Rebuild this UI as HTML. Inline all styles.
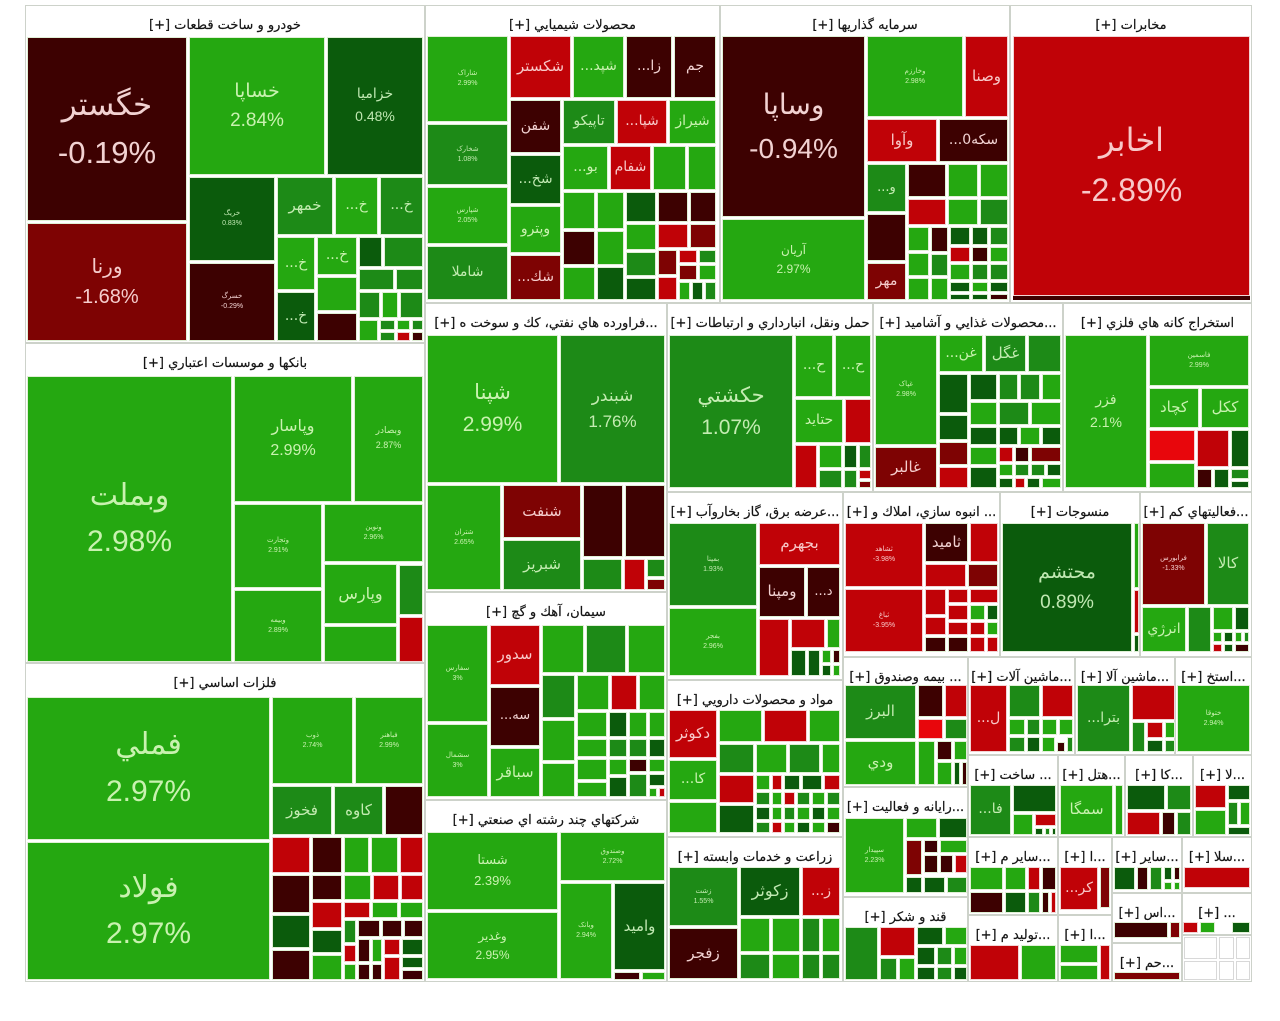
<!DOCTYPE html>
<html><head><meta charset="utf-8">
<style>
*{margin:0;padding:0;box-sizing:border-box}
body{width:1280px;height:1021px;background:#fff;position:relative;overflow:hidden;font-family:"DejaVu Sans","Liberation Sans",sans-serif}
.s{position:absolute;border:1px solid #cdd2ca;background:#fff}
.h{position:absolute;top:7px;left:2px;right:2px;height:26px;line-height:26px;direction:rtl;text-align:center;white-space:nowrap;overflow:hidden;font-size:13px;color:#151515;-webkit-text-stroke:0.2px #151515}
i,b{position:absolute;border:1px solid #e0f0d6;display:flex;flex-direction:column;align-items:center;justify-content:center;font-style:normal;font-weight:normal;overflow:hidden;white-space:nowrap;line-height:1.55;direction:rtl}
.p{font-family:"Liberation Sans",sans-serif;direction:ltr}
.g{background:#25a811;color:#c9f2b0}
.m{background:#1d8a17;color:#c4ecb2}
.d{background:#0b5b0c;color:#c0e8b2}
.k{background:#3d0101;color:#f2d2d2}
.o{background:#7e0303;color:#f5cccc}
.r{background:#c00207;color:#f8c8c8;border-color:#f2d4d4}
.R{background:#e8060c;border-color:#f2d4d4}
.w{background:#fff;border-color:#d8d8d8}
</style></head><body>

<!-- sectors -->
<div class="s" style="left:25px;top:5px;width:400px;height:338px"><div class="h">خودرو و ساخت قطعات [+]</div></div>
<div class="s" style="left:25px;top:343px;width:400px;height:320px"><div class="h">بانکها و موسسات اعتباري [+]</div></div>
<div class="s" style="left:25px;top:663px;width:400px;height:319px"><div class="h">فلزات اساسي [+]</div></div>
<div class="s" style="left:425px;top:5px;width:295px;height:298px"><div class="h">محصولات شيميايي [+]</div></div>
<div class="s" style="left:720px;top:5px;width:290px;height:298px"><div class="h">سرمايه گذاريها [+]</div></div>
<div class="s" style="left:1010px;top:5px;width:242px;height:298px"><div class="h">مخابرات [+]</div></div>
<div class="s" style="left:425px;top:303px;width:242px;height:289px"><div class="h">...فراورده هاي نفتي، كك و سوخت ه [+]</div></div>
<div class="s" style="left:425px;top:592px;width:242px;height:208px"><div class="h">سيمان، آهك و گچ [+]</div></div>
<div class="s" style="left:425px;top:800px;width:242px;height:182px"><div class="h">شرکتهاي چند رشته اي صنعتي [+]</div></div>
<div class="s" style="left:667px;top:303px;width:206px;height:189px"><div class="h">حمل ونقل، انبارداري و ارتباطات [+]</div></div>
<div class="s" style="left:873px;top:303px;width:190px;height:189px"><div class="h">...محصولات غذايي و آشاميد [+]</div></div>
<div class="s" style="left:1063px;top:303px;width:189px;height:189px"><div class="h">استخراج کانه هاي فلزي [+]</div></div>
<div class="s" style="left:667px;top:492px;width:176px;height:188px"><div class="h">...عرضه برق، گاز بخاروآب [+]</div></div>
<div class="s" style="left:667px;top:680px;width:176px;height:157px"><div class="h">مواد و محصولات دارويي [+]</div></div>
<div class="s" style="left:667px;top:837px;width:176px;height:145px"><div class="h">زراعت و خدمات وابسته [+]</div></div>
<div class="s" style="left:843px;top:492px;width:157px;height:165px"><div class="h">... انبوه سازي، املاك و [+]</div></div>
<div class="s" style="left:1000px;top:492px;width:140px;height:165px"><div class="h">منسوجات [+]</div></div>
<div class="s" style="left:1140px;top:492px;width:112px;height:165px"><div class="h">...فعاليتهاي كم [+]</div></div>
<div class="s" style="left:843px;top:657px;width:125px;height:130px"><div class="h">... بيمه وصندوق [+]</div></div>
<div class="s" style="left:843px;top:787px;width:125px;height:110px"><div class="h">...رايانه و فعاليت [+]</div></div>
<div class="s" style="left:843px;top:897px;width:125px;height:85px"><div class="h">قند و شكر [+]</div></div>
<div class="s" style="left:968px;top:657px;width:107px;height:98px"><div class="h">...ماشين آلات [+]</div></div>
<div class="s" style="left:1075px;top:657px;width:100px;height:98px"><div class="h">...ماشين آلا [+]</div></div>
<div class="s" style="left:1175px;top:657px;width:77px;height:98px"><div class="h">...استخ [+]</div></div>
<div class="s" style="left:968px;top:755px;width:90px;height:82px"><div class="h">... ساخت [+]</div></div>
<div class="s" style="left:1058px;top:755px;width:67px;height:82px"><div class="h">...هتل [+]</div></div>
<div class="s" style="left:1125px;top:755px;width:68px;height:82px"><div class="h">...كا [+]</div></div>
<div class="s" style="left:1193px;top:755px;width:59px;height:82px"><div class="h">...لا [+]</div></div>
<div class="s" style="left:968px;top:837px;width:90px;height:78px"><div class="h">...ساير م [+]</div></div>
<div class="s" style="left:1058px;top:837px;width:54px;height:78px"><div class="h">...ا [+]</div></div>
<div class="s" style="left:1112px;top:837px;width:70px;height:56px"><div class="h">...ساير [+]</div></div>
<div class="s" style="left:1182px;top:837px;width:70px;height:56px"><div class="h">...سلا [+]</div></div>
<div class="s" style="left:968px;top:915px;width:90px;height:67px"><div class="h">...توليد م [+]</div></div>
<div class="s" style="left:1058px;top:915px;width:54px;height:67px"><div class="h">...ا [+]</div></div>
<div class="s" style="left:1112px;top:893px;width:70px;height:50px"><div class="h">...اس [+]</div></div>
<div class="s" style="left:1112px;top:943px;width:70px;height:39px"><div class="h">...حم [+]</div></div>
<div class="s" style="left:1182px;top:893px;width:70px;height:42px"><div class="h">... [+]</div></div>
<div class="s" style="left:1182px;top:935px;width:70px;height:47px"></div>

<!-- 1 khodro -->
<b class="k" style="left:27px;top:37px;width:160px;height:184px;font-size:31px"><span>خگستر</span><span class="p">-0.19%</span></b>
<b class="o" style="left:27px;top:223px;width:160px;height:118px;font-size:20px"><span>ورنا</span><span class="p">-1.68%</span></b>
<b class="g" style="left:189px;top:37px;width:136px;height:138px;font-size:19px"><span>خساپا</span><span class="p">2.84%</span></b>
<b class="d" style="left:327px;top:37px;width:96px;height:138px;font-size:14px"><span>خزامیا</span><span class="p">0.48%</span></b>
<b class="d" style="left:189px;top:177px;width:86px;height:84px;font-size:7px"><span>خریگ</span><span class="p">0.83%</span></b>
<b class="m" style="left:277px;top:177px;width:56px;height:58px;font-size:15px">خمهر</b>
<b class="g" style="left:335px;top:177px;width:43px;height:58px;font-size:14px">خ...</b>
<b class="m" style="left:380px;top:177px;width:43px;height:58px;font-size:14px">خ...</b>
<b class="k" style="left:189px;top:263px;width:86px;height:78px;font-size:7px"><span>خسرگ</span><span class="p">-0.29%</span></b>
<b class="g" style="left:277px;top:237px;width:38px;height:53px;font-size:14px">خ...</b>
<b class="g" style="left:317px;top:237px;width:40px;height:38px;font-size:14px">خ...</b>
<i class="g" style="left:317px;top:277px;width:40px;height:34px"></i>
<i class="k" style="left:317px;top:313px;width:40px;height:28px"></i>
<b class="d" style="left:277px;top:292px;width:38px;height:49px;font-size:14px">خ...</b>
<i class="d" style="left:359px;top:237px;width:23px;height:30px"></i>
<i class="m" style="left:384px;top:237px;width:39px;height:30px"></i>
<i class="m" style="left:359px;top:269px;width:35px;height:21px"></i>
<i class="m" style="left:396px;top:269px;width:27px;height:21px"></i>
<i class="m" style="left:359px;top:292px;width:21px;height:26px"></i>
<i class="g" style="left:382px;top:292px;width:16px;height:26px"></i>
<i class="m" style="left:400px;top:292px;width:23px;height:26px"></i>
<i class="g" style="left:359px;top:320px;width:19px;height:21px"></i>
<i class="m" style="left:380px;top:320px;width:15px;height:10px"></i>
<i class="g" style="left:397px;top:320px;width:13px;height:10px"></i>
<i class="m" style="left:412px;top:320px;width:11px;height:10px"></i>
<i class="m" style="left:380px;top:332px;width:15px;height:9px"></i>
<i class="r" style="left:397px;top:332px;width:13px;height:9px"></i>
<i class="k" style="left:412px;top:332px;width:11px;height:9px"></i>

<!-- 2 banks -->
<b class="g" style="left:27px;top:376px;width:205px;height:286px;font-size:30px"><span>وبملت</span><span class="p">2.98%</span></b>
<b class="g" style="left:234px;top:376px;width:118px;height:126px;font-size:16px"><span>وپاسار</span><span class="p">2.99%</span></b>
<b class="g" style="left:354px;top:376px;width:69px;height:126px;font-size:9px"><span>وبصادر</span><span class="p">2.87%</span></b>
<b class="g" style="left:234px;top:504px;width:88px;height:84px;font-size:7px"><span>وتجارت</span><span class="p">2.91%</span></b>
<b class="g" style="left:234px;top:590px;width:88px;height:72px;font-size:7px"><span>وبیمه</span><span class="p">2.89%</span></b>
<b class="g" style="left:324px;top:504px;width:99px;height:58px;font-size:7px"><span>ونوین</span><span class="p">2.96%</span></b>
<b class="g" style="left:324px;top:564px;width:73px;height:60px;font-size:16px">وپارس</b>
<i class="g" style="left:324px;top:626px;width:73px;height:36px"></i>
<i class="m" style="left:399px;top:565px;width:24px;height:50px"></i>
<i class="r" style="left:399px;top:617px;width:24px;height:45px"></i>

<!-- 3 felezat -->
<b class="g" style="left:27px;top:697px;width:243px;height:143px;font-size:30px"><span>فملي</span><span class="p">2.97%</span></b>
<b class="g" style="left:27px;top:842px;width:243px;height:138px;font-size:30px"><span>فولاد</span><span class="p">2.97%</span></b>
<b class="g" style="left:272px;top:697px;width:81px;height:87px;font-size:7px"><span>ذوب</span><span class="p">2.74%</span></b>
<b class="g" style="left:355px;top:697px;width:68px;height:87px;font-size:7px"><span>فباهنر</span><span class="p">2.99%</span></b>
<b class="m" style="left:272px;top:786px;width:60px;height:49px;font-size:15px">فخوز</b>
<b class="m" style="left:334px;top:786px;width:49px;height:49px;font-size:15px">کاوه</b>
<i class="k" style="left:385px;top:786px;width:38px;height:49px"></i>
<i class="r" style="left:272px;top:837px;width:38px;height:36px"></i>
<i class="k" style="left:312px;top:837px;width:30px;height:36px"></i>
<i class="g" style="left:344px;top:837px;width:25px;height:36px"></i>
<i class="g" style="left:371px;top:837px;width:27px;height:36px"></i>
<i class="r" style="left:400px;top:837px;width:23px;height:36px"></i>
<i class="k" style="left:272px;top:875px;width:38px;height:38px"></i>
<i class="k" style="left:312px;top:875px;width:30px;height:25px"></i>
<i class="g" style="left:344px;top:875px;width:27px;height:25px"></i>
<i class="r" style="left:373px;top:875px;width:26px;height:25px"></i>
<i class="r" style="left:401px;top:875px;width:22px;height:25px"></i>
<i class="r" style="left:312px;top:902px;width:30px;height:26px"></i>
<i class="r" style="left:344px;top:902px;width:26px;height:16px"></i>
<i class="g" style="left:372px;top:902px;width:26px;height:16px"></i>
<i class="g" style="left:400px;top:902px;width:23px;height:16px"></i>
<i class="d" style="left:272px;top:915px;width:38px;height:33px"></i>
<i class="d" style="left:312px;top:930px;width:30px;height:23px"></i>
<i class="k" style="left:272px;top:950px;width:38px;height:30px"></i>
<i class="g" style="left:312px;top:955px;width:30px;height:25px"></i>
<i class="m" style="left:344px;top:920px;width:12px;height:23px"></i>
<i class="k" style="left:358px;top:920px;width:22px;height:17px"></i>
<i class="k" style="left:382px;top:920px;width:20px;height:17px"></i>
<i class="k" style="left:404px;top:920px;width:19px;height:17px"></i>
<i class="r" style="left:344px;top:945px;width:12px;height:17px"></i>
<i class="k" style="left:358px;top:939px;width:12px;height:23px"></i>
<i class="g" style="left:372px;top:939px;width:10px;height:23px"></i>
<i class="r" style="left:384px;top:939px;width:16px;height:16px"></i>
<i class="d" style="left:402px;top:939px;width:21px;height:16px"></i>
<i class="g" style="left:344px;top:964px;width:12px;height:16px"></i>
<i class="k" style="left:358px;top:964px;width:12px;height:16px"></i>
<i class="k" style="left:372px;top:964px;width:10px;height:16px"></i>
<i class="r" style="left:384px;top:957px;width:16px;height:23px"></i>
<i class="d" style="left:402px;top:957px;width:21px;height:11px"></i>
<i class="k" style="left:402px;top:970px;width:21px;height:10px"></i>

<!-- 4 shimiaee -->
<b class="g" style="left:427px;top:36px;width:81px;height:86px;font-size:7px"><span>شاراک</span><span class="p">2.99%</span></b>
<b class="m" style="left:427px;top:124px;width:81px;height:61px;font-size:7px"><span>شخارک</span><span class="p">1.08%</span></b>
<b class="g" style="left:427px;top:187px;width:81px;height:57px;font-size:7px"><span>شپارس</span><span class="p">2.05%</span></b>
<b class="m" style="left:427px;top:246px;width:81px;height:54px;font-size:14px">شاملا</b>
<b class="r" style="left:510px;top:36px;width:61px;height:62px;font-size:15px">شکستر</b>
<b class="g" style="left:573px;top:36px;width:51px;height:62px;font-size:14px">شپد...</b>
<b class="k" style="left:626px;top:36px;width:46px;height:62px;font-size:14px">زا...</b>
<b class="k" style="left:674px;top:36px;width:42px;height:62px;font-size:14px">جم</b>
<b class="k" style="left:510px;top:100px;width:51px;height:53px;font-size:14px">شفن</b>
<b class="m" style="left:563px;top:100px;width:52px;height:44px;font-size:14px">تاپیکو</b>
<b class="r" style="left:617px;top:100px;width:50px;height:44px;font-size:14px">شپا...</b>
<b class="g" style="left:669px;top:100px;width:47px;height:44px;font-size:14px">شیراز</b>
<b class="d" style="left:510px;top:155px;width:51px;height:49px;font-size:14px">شخ...</b>
<b class="g" style="left:563px;top:146px;width:45px;height:44px;font-size:14px">بو...</b>
<b class="r" style="left:610px;top:146px;width:41px;height:44px;font-size:14px">شفام</b>
<i class="g" style="left:653px;top:146px;width:33px;height:44px"></i>
<i class="g" style="left:688px;top:146px;width:28px;height:44px"></i>
<b class="g" style="left:510px;top:206px;width:51px;height:47px;font-size:14px">وپترو</b>
<b class="o" style="left:510px;top:255px;width:51px;height:45px;font-size:14px">شك...</b>
<i class="g" style="left:563px;top:192px;width:32px;height:37px"></i>
<i class="g" style="left:597px;top:192px;width:27px;height:37px"></i>
<i class="d" style="left:626px;top:192px;width:30px;height:30px"></i>
<i class="k" style="left:658px;top:192px;width:30px;height:30px"></i>
<i class="k" style="left:690px;top:192px;width:26px;height:30px"></i>
<i class="k" style="left:563px;top:231px;width:32px;height:34px"></i>
<i class="g" style="left:597px;top:231px;width:27px;height:34px"></i>
<i class="g" style="left:626px;top:224px;width:30px;height:26px"></i>
<i class="r" style="left:658px;top:224px;width:30px;height:24px"></i>
<i class="o" style="left:690px;top:224px;width:26px;height:24px"></i>
<i class="g" style="left:563px;top:267px;width:32px;height:33px"></i>
<i class="d" style="left:597px;top:267px;width:27px;height:33px"></i>
<i class="m" style="left:626px;top:252px;width:30px;height:24px"></i>
<i class="d" style="left:626px;top:278px;width:30px;height:22px"></i>
<i class="o" style="left:658px;top:250px;width:19px;height:25px"></i>
<i class="r" style="left:679px;top:250px;width:18px;height:13px"></i>
<i class="m" style="left:699px;top:250px;width:17px;height:13px"></i>
<i class="r" style="left:658px;top:277px;width:19px;height:23px"></i>
<i class="o" style="left:679px;top:265px;width:18px;height:15px"></i>
<i class="g" style="left:699px;top:265px;width:17px;height:15px"></i>
<i class="g" style="left:679px;top:282px;width:11px;height:18px"></i>
<i class="d" style="left:692px;top:282px;width:11px;height:18px"></i>
<i class="m" style="left:705px;top:282px;width:11px;height:18px"></i>

<!-- 5 sarmayeh -->
<b class="k" style="left:722px;top:36px;width:143px;height:181px;font-size:28px"><span>وساپا</span><span class="p">-0.94%</span></b>
<b class="g" style="left:722px;top:219px;width:143px;height:81px;font-size:12px"><span>آریان</span><span class="p">2.97%</span></b>
<b class="g" style="left:867px;top:36px;width:96px;height:81px;font-size:7px"><span>وخارزم</span><span class="p">2.98%</span></b>
<b class="r" style="left:965px;top:36px;width:43px;height:81px;font-size:15px">وصنا</b>
<b class="r" style="left:867px;top:119px;width:70px;height:43px;font-size:15px">وآوا</b>
<b class="k" style="left:939px;top:119px;width:69px;height:43px;font-size:14px">سکه0...</b>
<b class="m" style="left:867px;top:164px;width:39px;height:48px;font-size:13px">و...</b>
<i class="k" style="left:908px;top:164px;width:38px;height:33px"></i>
<i class="g" style="left:948px;top:164px;width:30px;height:33px"></i>
<i class="g" style="left:980px;top:164px;width:28px;height:33px"></i>
<i class="r" style="left:908px;top:199px;width:38px;height:26px"></i>
<i class="g" style="left:948px;top:199px;width:30px;height:26px"></i>
<i class="m" style="left:980px;top:199px;width:28px;height:26px"></i>
<i class="k" style="left:867px;top:214px;width:39px;height:47px"></i>
<b class="o" style="left:867px;top:263px;width:39px;height:37px;font-size:14px">مهر</b>
<i class="g" style="left:908px;top:227px;width:21px;height:24px"></i>
<i class="k" style="left:931px;top:227px;width:17px;height:25px"></i>
<i class="d" style="left:950px;top:227px;width:20px;height:18px"></i>
<i class="d" style="left:972px;top:227px;width:16px;height:18px"></i>
<i class="m" style="left:990px;top:227px;width:18px;height:18px"></i>
<i class="g" style="left:908px;top:253px;width:21px;height:23px"></i>
<i class="m" style="left:931px;top:254px;width:17px;height:22px"></i>
<i class="r" style="left:950px;top:247px;width:20px;height:15px"></i>
<i class="k" style="left:972px;top:247px;width:16px;height:15px"></i>
<i class="g" style="left:990px;top:247px;width:18px;height:15px"></i>
<i class="g" style="left:908px;top:278px;width:21px;height:22px"></i>
<i class="g" style="left:931px;top:278px;width:17px;height:22px"></i>
<i class="g" style="left:950px;top:264px;width:20px;height:16px"></i>
<i class="m" style="left:972px;top:264px;width:16px;height:16px"></i>
<i class="m" style="left:990px;top:264px;width:18px;height:16px"></i>
<i class="d" style="left:950px;top:282px;width:20px;height:10px"></i>
<i class="g" style="left:972px;top:282px;width:16px;height:10px"></i>
<i class="d" style="left:990px;top:282px;width:18px;height:10px"></i>
<i class="d" style="left:950px;top:294px;width:20px;height:6px"></i>
<i class="d" style="left:972px;top:294px;width:16px;height:6px"></i>
<i class="k" style="left:990px;top:294px;width:18px;height:6px"></i>

<!-- 6 mokhaberat -->
<b class="r" style="left:1013px;top:36px;width:237px;height:260px;font-size:32px"><span>اخابر</span><span class="p">-2.89%</span></b>
<i class="k" style="left:1013px;top:296px;width:237px;height:4px;border:none"></i>

<!-- 7 faravardeh -->
<b class="g" style="left:427px;top:335px;width:131px;height:148px;font-size:21px"><span>شپنا</span><span class="p">2.99%</span></b>
<b class="m" style="left:560px;top:335px;width:105px;height:148px;font-size:17px"><span>شبندر</span><span class="p">1.76%</span></b>
<b class="g" style="left:427px;top:485px;width:74px;height:105px;font-size:7px"><span>شتران</span><span class="p">2.65%</span></b>
<b class="o" style="left:503px;top:485px;width:78px;height:53px;font-size:15px">شنفت</b>
<b class="m" style="left:503px;top:540px;width:78px;height:50px;font-size:15px">شبریز</b>
<i class="k" style="left:583px;top:485px;width:40px;height:72px"></i>
<i class="k" style="left:625px;top:485px;width:40px;height:72px"></i>
<i class="m" style="left:583px;top:559px;width:39px;height:31px"></i>
<i class="r" style="left:624px;top:559px;width:21px;height:31px"></i>
<i class="m" style="left:647px;top:559px;width:18px;height:18px"></i>
<i class="o" style="left:647px;top:579px;width:18px;height:11px"></i>

<!-- 8 siman -->
<b class="g" style="left:427px;top:625px;width:61px;height:97px;font-size:7px"><span>سفارس</span><span class="p">3%</span></b>
<b class="g" style="left:427px;top:724px;width:61px;height:73px;font-size:7px"><span>سشمال</span><span class="p">3%</span></b>
<b class="r" style="left:490px;top:625px;width:50px;height:60px;font-size:15px">سدور</b>
<b class="k" style="left:490px;top:687px;width:50px;height:59px;font-size:13px">سه...</b>
<b class="g" style="left:490px;top:748px;width:50px;height:49px;font-size:15px">سباقر</b>
<i class="g" style="left:542px;top:625px;width:42px;height:48px"></i>
<i class="m" style="left:586px;top:625px;width:40px;height:48px"></i>
<i class="g" style="left:628px;top:625px;width:37px;height:48px"></i>
<i class="m" style="left:542px;top:675px;width:33px;height:43px"></i>
<i class="g" style="left:577px;top:675px;width:32px;height:35px"></i>
<i class="r" style="left:611px;top:675px;width:26px;height:35px"></i>
<i class="g" style="left:639px;top:675px;width:26px;height:35px"></i>
<i class="g" style="left:542px;top:720px;width:33px;height:41px"></i>
<i class="g" style="left:542px;top:763px;width:33px;height:34px"></i>
<i class="g" style="left:577px;top:712px;width:30px;height:25px"></i>
<i class="d" style="left:609px;top:712px;width:18px;height:25px"></i>
<i class="g" style="left:629px;top:712px;width:18px;height:25px"></i>
<i class="g" style="left:649px;top:712px;width:16px;height:25px"></i>
<i class="g" style="left:577px;top:739px;width:30px;height:18px"></i>
<i class="m" style="left:609px;top:739px;width:18px;height:18px"></i>
<i class="m" style="left:629px;top:739px;width:18px;height:18px"></i>
<i class="d" style="left:649px;top:739px;width:16px;height:18px"></i>
<i class="g" style="left:577px;top:759px;width:30px;height:21px"></i>
<i class="g" style="left:609px;top:759px;width:18px;height:16px"></i>
<i class="k" style="left:629px;top:759px;width:18px;height:13px"></i>
<i class="g" style="left:649px;top:759px;width:16px;height:13px"></i>
<i class="g" style="left:577px;top:782px;width:30px;height:15px"></i>
<i class="d" style="left:609px;top:777px;width:18px;height:20px"></i>
<i class="m" style="left:629px;top:774px;width:18px;height:23px"></i>
<i class="d" style="left:649px;top:774px;width:16px;height:12px"></i>
<i class="g" style="left:649px;top:788px;width:8px;height:9px"></i>
<i class="r" style="left:659px;top:788px;width:6px;height:9px"></i>

<!-- 9 chand reshteh -->
<b class="g" style="left:427px;top:832px;width:131px;height:78px;font-size:13px"><span>شستا</span><span class="p">2.39%</span></b>
<b class="g" style="left:427px;top:912px;width:131px;height:67px;font-size:12px"><span>وغدير</span><span class="p">2.95%</span></b>
<b class="g" style="left:560px;top:832px;width:105px;height:49px;font-size:7px"><span>وصندوق</span><span class="p">2.72%</span></b>
<b class="g" style="left:560px;top:883px;width:52px;height:96px;font-size:7px"><span>وبانک</span><span class="p">2.94%</span></b>
<b class="d" style="left:614px;top:883px;width:51px;height:87px;font-size:15px">واميد</b>
<i class="k" style="left:614px;top:972px;width:26px;height:8px"></i>
<i class="g" style="left:642px;top:972px;width:23px;height:8px"></i>

<!-- 10 haml -->
<b class="m" style="left:669px;top:335px;width:124px;height:153px;font-size:21px"><span>حكشتي</span><span class="p">1.07%</span></b>
<b class="g" style="left:795px;top:335px;width:38px;height:62px;font-size:14px">ح...</b>
<b class="g" style="left:835px;top:335px;width:36px;height:62px;font-size:14px">ح...</b>
<b class="g" style="left:795px;top:399px;width:48px;height:44px;font-size:14px">حتايد</b>
<i class="r" style="left:845px;top:399px;width:26px;height:44px"></i>
<i class="r" style="left:795px;top:445px;width:22px;height:43px"></i>
<i class="g" style="left:819px;top:445px;width:23px;height:23px"></i>
<i class="d" style="left:844px;top:445px;width:13px;height:23px"></i>
<i class="m" style="left:859px;top:445px;width:12px;height:23px"></i>
<i class="m" style="left:819px;top:470px;width:23px;height:18px"></i>
<i class="m" style="left:844px;top:470px;width:13px;height:18px"></i>
<i class="r" style="left:859px;top:470px;width:12px;height:9px"></i>
<i class="o" style="left:859px;top:481px;width:12px;height:7px"></i>

<!-- 11 ghazaee -->
<b class="g" style="left:875px;top:335px;width:62px;height:110px;font-size:7px"><span>غپاک</span><span class="p">2.98%</span></b>
<b class="o" style="left:875px;top:447px;width:62px;height:41px;font-size:15px">غالبر</b>
<b class="g" style="left:939px;top:335px;width:44px;height:37px;font-size:14px">غن...</b>
<b class="m" style="left:985px;top:335px;width:41px;height:37px;font-size:15px">غگل</b>
<i class="m" style="left:1028px;top:335px;width:33px;height:37px"></i>
<i class="d" style="left:939px;top:374px;width:29px;height:39px"></i>
<i class="d" style="left:970px;top:374px;width:27px;height:26px"></i>
<i class="m" style="left:999px;top:374px;width:19px;height:26px"></i>
<i class="m" style="left:1020px;top:374px;width:20px;height:26px"></i>
<i class="g" style="left:1042px;top:374px;width:19px;height:26px"></i>
<i class="d" style="left:939px;top:415px;width:29px;height:25px"></i>
<i class="o" style="left:939px;top:442px;width:29px;height:23px"></i>
<i class="r" style="left:939px;top:467px;width:29px;height:21px"></i>
<i class="g" style="left:970px;top:402px;width:27px;height:23px"></i>
<i class="m" style="left:999px;top:402px;width:30px;height:23px"></i>
<i class="g" style="left:1031px;top:402px;width:30px;height:23px"></i>
<i class="d" style="left:970px;top:427px;width:27px;height:18px"></i>
<i class="d" style="left:999px;top:427px;width:19px;height:18px"></i>
<i class="g" style="left:1020px;top:427px;width:20px;height:18px"></i>
<i class="d" style="left:1042px;top:427px;width:19px;height:18px"></i>
<i class="g" style="left:970px;top:447px;width:27px;height:18px"></i>
<i class="r" style="left:999px;top:447px;width:14px;height:15px"></i>
<i class="k" style="left:1015px;top:447px;width:14px;height:15px"></i>
<i class="o" style="left:1031px;top:447px;width:30px;height:15px"></i>
<i class="d" style="left:970px;top:467px;width:27px;height:21px"></i>
<i class="g" style="left:999px;top:464px;width:14px;height:12px"></i>
<i class="m" style="left:1015px;top:464px;width:14px;height:12px"></i>
<i class="m" style="left:1031px;top:464px;width:14px;height:12px"></i>
<i class="d" style="left:1047px;top:464px;width:14px;height:12px"></i>
<i class="d" style="left:999px;top:478px;width:14px;height:10px"></i>
<i class="r" style="left:1015px;top:478px;width:10px;height:10px"></i>
<i class="d" style="left:1027px;top:478px;width:13px;height:10px"></i>
<i class="g" style="left:1042px;top:478px;width:19px;height:10px"></i>

<!-- 12 estekhraj -->
<b class="g" style="left:1065px;top:335px;width:82px;height:153px;font-size:14px"><span>فزر</span><span class="p">2.1%</span></b>
<b class="g" style="left:1149px;top:335px;width:100px;height:51px;font-size:7px"><span>فاسمين</span><span class="p">2.99%</span></b>
<b class="g" style="left:1149px;top:388px;width:50px;height:40px;font-size:15px">کچاد</b>
<b class="g" style="left:1201px;top:388px;width:48px;height:40px;font-size:15px">ککل</b>
<i class="R" style="left:1149px;top:430px;width:46px;height:31px"></i>
<i class="g" style="left:1149px;top:463px;width:46px;height:25px"></i>
<i class="r" style="left:1197px;top:430px;width:32px;height:37px"></i>
<i class="d" style="left:1231px;top:430px;width:18px;height:37px"></i>
<i class="k" style="left:1197px;top:469px;width:15px;height:19px"></i>
<i class="d" style="left:1214px;top:469px;width:15px;height:19px"></i>
<i class="m" style="left:1231px;top:469px;width:18px;height:10px"></i>
<i class="d" style="left:1231px;top:481px;width:18px;height:7px"></i>

<!-- 13 bargh -->
<b class="m" style="left:669px;top:523px;width:88px;height:83px;font-size:7px"><span>بمپنا</span><span class="p">1.93%</span></b>
<b class="g" style="left:669px;top:608px;width:88px;height:68px;font-size:7px"><span>بفجر</span><span class="p">2.96%</span></b>
<b class="r" style="left:759px;top:523px;width:81px;height:42px;font-size:15px">بجهرم</b>
<b class="k" style="left:759px;top:567px;width:46px;height:50px;font-size:15px">ومپنا</b>
<b class="k" style="left:807px;top:567px;width:33px;height:50px;font-size:13px">د...</b>
<i class="r" style="left:759px;top:619px;width:30px;height:57px"></i>
<i class="r" style="left:791px;top:619px;width:34px;height:29px"></i>
<i class="g" style="left:827px;top:619px;width:13px;height:29px"></i>
<i class="d" style="left:791px;top:650px;width:15px;height:26px"></i>
<i class="d" style="left:808px;top:650px;width:12px;height:26px"></i>
<i class="g" style="left:822px;top:650px;width:9px;height:13px"></i>
<i class="k" style="left:833px;top:650px;width:7px;height:13px"></i>
<i class="d" style="left:822px;top:665px;width:9px;height:11px"></i>
<i class="g" style="left:833px;top:665px;width:7px;height:11px"></i>

<!-- 14 darooee -->
<b class="r" style="left:669px;top:710px;width:48px;height:48px;font-size:15px">دکوثر</b>
<b class="g" style="left:669px;top:760px;width:48px;height:40px;font-size:14px">کا...</b>
<i class="g" style="left:669px;top:802px;width:48px;height:31px"></i>
<i class="g" style="left:719px;top:710px;width:43px;height:32px"></i>
<i class="r" style="left:764px;top:710px;width:43px;height:32px"></i>
<i class="g" style="left:809px;top:710px;width:31px;height:32px"></i>
<i class="m" style="left:719px;top:744px;width:35px;height:29px"></i>
<i class="g" style="left:756px;top:744px;width:31px;height:29px"></i>
<i class="m" style="left:789px;top:744px;width:31px;height:29px"></i>
<i class="g" style="left:822px;top:744px;width:18px;height:29px"></i>
<i class="r" style="left:719px;top:775px;width:35px;height:28px"></i>
<i class="d" style="left:719px;top:805px;width:35px;height:28px"></i>
<i class="g" style="left:756px;top:775px;width:14px;height:15px"></i>
<i class="r" style="left:772px;top:775px;width:10px;height:15px"></i>
<i class="d" style="left:784px;top:775px;width:16px;height:15px"></i>
<i class="d" style="left:802px;top:775px;width:20px;height:15px"></i>
<i class="r" style="left:824px;top:775px;width:16px;height:15px"></i>
<i class="m" style="left:756px;top:792px;width:14px;height:13px"></i>
<i class="g" style="left:772px;top:792px;width:10px;height:13px"></i>
<i class="r" style="left:784px;top:792px;width:11px;height:13px"></i>
<i class="m" style="left:797px;top:792px;width:13px;height:13px"></i>
<i class="g" style="left:812px;top:792px;width:13px;height:13px"></i>
<i class="m" style="left:827px;top:792px;width:13px;height:13px"></i>
<i class="d" style="left:756px;top:807px;width:14px;height:13px"></i>
<i class="g" style="left:772px;top:807px;width:10px;height:13px"></i>
<i class="m" style="left:784px;top:807px;width:11px;height:13px"></i>
<i class="g" style="left:797px;top:807px;width:13px;height:13px"></i>
<i class="d" style="left:812px;top:807px;width:13px;height:13px"></i>
<i class="g" style="left:827px;top:807px;width:13px;height:13px"></i>
<i class="m" style="left:756px;top:822px;width:14px;height:11px"></i>
<i class="r" style="left:772px;top:822px;width:10px;height:11px"></i>
<i class="g" style="left:784px;top:822px;width:11px;height:11px"></i>
<i class="d" style="left:797px;top:822px;width:13px;height:11px"></i>
<i class="g" style="left:812px;top:822px;width:13px;height:11px"></i>
<i class="k" style="left:827px;top:822px;width:13px;height:11px"></i>

<!-- 15 zeraat -->
<b class="m" style="left:669px;top:867px;width:69px;height:59px;font-size:7px"><span>زشت</span><span class="p">1.55%</span></b>
<b class="k" style="left:669px;top:928px;width:69px;height:51px;font-size:15px">زفجر</b>
<b class="d" style="left:740px;top:867px;width:60px;height:49px;font-size:16px">زکوثر</b>
<b class="r" style="left:802px;top:867px;width:38px;height:49px;font-size:14px">ز...</b>
<i class="g" style="left:740px;top:918px;width:30px;height:34px"></i>
<i class="g" style="left:772px;top:918px;width:28px;height:34px"></i>
<i class="m" style="left:802px;top:918px;width:18px;height:34px"></i>
<i class="g" style="left:822px;top:918px;width:18px;height:34px"></i>
<i class="m" style="left:740px;top:954px;width:30px;height:25px"></i>
<i class="g" style="left:772px;top:954px;width:28px;height:25px"></i>
<i class="m" style="left:802px;top:954px;width:18px;height:25px"></i>
<i class="m" style="left:822px;top:954px;width:18px;height:25px"></i>

<!-- 16 anbooh -->
<b class="r" style="left:845px;top:523px;width:78px;height:64px;font-size:7px"><span>ثشاهد</span><span class="p">-3.98%</span></b>
<b class="r" style="left:845px;top:589px;width:78px;height:63px;font-size:7px"><span>ثباغ</span><span class="p">-3.95%</span></b>
<b class="k" style="left:925px;top:523px;width:43px;height:39px;font-size:15px">ثامید</b>
<i class="r" style="left:970px;top:523px;width:28px;height:39px"></i>
<i class="r" style="left:925px;top:564px;width:41px;height:23px"></i>
<i class="o" style="left:968px;top:564px;width:30px;height:23px"></i>
<i class="r" style="left:925px;top:589px;width:21px;height:26px"></i>
<i class="r" style="left:948px;top:589px;width:20px;height:14px"></i>
<i class="r" style="left:970px;top:589px;width:28px;height:14px"></i>
<i class="r" style="left:925px;top:617px;width:21px;height:18px"></i>
<i class="k" style="left:925px;top:637px;width:21px;height:15px"></i>
<i class="r" style="left:948px;top:605px;width:20px;height:15px"></i>
<i class="g" style="left:970px;top:605px;width:15px;height:15px"></i>
<i class="d" style="left:987px;top:605px;width:11px;height:15px"></i>
<i class="r" style="left:948px;top:622px;width:20px;height:13px"></i>
<i class="r" style="left:970px;top:622px;width:15px;height:13px"></i>
<i class="g" style="left:987px;top:622px;width:11px;height:13px"></i>
<i class="k" style="left:948px;top:637px;width:20px;height:15px"></i>
<i class="r" style="left:970px;top:637px;width:15px;height:15px"></i>
<i class="r" style="left:987px;top:637px;width:11px;height:15px"></i>

<!-- 17 mansoojat -->
<b class="d" style="left:1002px;top:523px;width:130px;height:129px;font-size:19px"><span>محتشم</span><span class="p">0.89%</span></b>
<i class="g" style="left:1134px;top:523px;width:5px;height:65px"></i>
<i class="r" style="left:1134px;top:590px;width:5px;height:43px"></i>
<i class="d" style="left:1134px;top:635px;width:5px;height:17px"></i>

<!-- 18 kam -->
<b class="o" style="left:1142px;top:523px;width:63px;height:82px;font-size:7px"><span>فرابورس</span><span class="p">-1.33%</span></b>
<b class="m" style="left:1207px;top:523px;width:42px;height:82px;font-size:15px">کالا</b>
<b class="g" style="left:1142px;top:607px;width:44px;height:45px;font-size:14px">انرژي</b>
<i class="m" style="left:1188px;top:607px;width:23px;height:45px"></i>
<i class="g" style="left:1213px;top:607px;width:20px;height:23px"></i>
<i class="d" style="left:1235px;top:607px;width:14px;height:23px"></i>
<i class="g" style="left:1213px;top:632px;width:9px;height:10px"></i>
<i class="d" style="left:1224px;top:632px;width:9px;height:10px"></i>
<i class="g" style="left:1235px;top:632px;width:7px;height:10px"></i>
<i class="m" style="left:1244px;top:632px;width:5px;height:10px"></i>
<i class="r" style="left:1213px;top:644px;width:9px;height:8px"></i>
<i class="d" style="left:1224px;top:644px;width:9px;height:8px"></i>
<i class="k" style="left:1235px;top:644px;width:14px;height:8px"></i>

<!-- 19 bimeh -->
<b class="m" style="left:845px;top:685px;width:71px;height:54px;font-size:15px">البرز</b>
<b class="g" style="left:845px;top:741px;width:71px;height:44px;font-size:15px">ودي</b>
<i class="k" style="left:918px;top:685px;width:25px;height:32px"></i>
<i class="r" style="left:945px;top:685px;width:22px;height:32px"></i>
<i class="R" style="left:918px;top:719px;width:25px;height:20px"></i>
<i class="m" style="left:945px;top:719px;width:22px;height:20px"></i>
<i class="g" style="left:918px;top:741px;width:17px;height:44px"></i>
<i class="k" style="left:937px;top:741px;width:15px;height:19px"></i>
<i class="g" style="left:954px;top:741px;width:13px;height:19px"></i>
<i class="g" style="left:937px;top:762px;width:15px;height:23px"></i>
<i class="d" style="left:954px;top:762px;width:6px;height:23px"></i>
<i class="k" style="left:962px;top:762px;width:5px;height:23px"></i>

<!-- 20 rayaneh -->
<b class="g" style="left:845px;top:818px;width:59px;height:75px;font-size:7px"><span>سپیدار</span><span class="p">2.23%</span></b>
<i class="g" style="left:906px;top:818px;width:31px;height:20px"></i>
<i class="d" style="left:939px;top:818px;width:28px;height:20px"></i>
<i class="o" style="left:906px;top:840px;width:16px;height:35px"></i>
<i class="k" style="left:924px;top:840px;width:14px;height:13px"></i>
<i class="g" style="left:940px;top:840px;width:27px;height:13px"></i>
<i class="k" style="left:924px;top:855px;width:14px;height:18px"></i>
<i class="k" style="left:940px;top:855px;width:13px;height:18px"></i>
<i class="r" style="left:955px;top:855px;width:12px;height:18px"></i>
<i class="d" style="left:906px;top:877px;width:16px;height:16px"></i>
<i class="d" style="left:924px;top:877px;width:21px;height:16px"></i>
<i class="m" style="left:947px;top:877px;width:20px;height:16px"></i>

<!-- 21 ghand -->
<i class="m" style="left:845px;top:927px;width:33px;height:53px"></i>
<i class="r" style="left:880px;top:927px;width:35px;height:29px"></i>
<i class="d" style="left:917px;top:927px;width:26px;height:18px"></i>
<i class="g" style="left:945px;top:927px;width:22px;height:18px"></i>
<i class="m" style="left:880px;top:958px;width:17px;height:22px"></i>
<i class="g" style="left:899px;top:958px;width:16px;height:22px"></i>
<i class="d" style="left:917px;top:947px;width:18px;height:18px"></i>
<i class="m" style="left:937px;top:947px;width:15px;height:18px"></i>
<i class="g" style="left:954px;top:947px;width:13px;height:18px"></i>
<i class="d" style="left:917px;top:967px;width:18px;height:13px"></i>
<i class="m" style="left:937px;top:967px;width:15px;height:13px"></i>
<i class="d" style="left:954px;top:967px;width:13px;height:13px"></i>

<!-- 22 mashin alat -->
<b class="r" style="left:970px;top:685px;width:37px;height:67px;font-size:14px">ل...</b>
<i class="m" style="left:1009px;top:685px;width:31px;height:32px"></i>
<i class="r" style="left:1042px;top:685px;width:31px;height:32px"></i>
<i class="g" style="left:1009px;top:719px;width:16px;height:16px"></i>
<i class="m" style="left:1027px;top:719px;width:13px;height:16px"></i>
<i class="g" style="left:1042px;top:719px;width:15px;height:16px"></i>
<i class="g" style="left:1059px;top:719px;width:14px;height:16px"></i>
<i class="m" style="left:1009px;top:737px;width:16px;height:15px"></i>
<i class="d" style="left:1027px;top:737px;width:13px;height:15px"></i>
<i class="g" style="left:1042px;top:737px;width:13px;height:15px"></i>
<i class="k" style="left:1057px;top:742px;width:8px;height:10px"></i>
<i class="m" style="left:1067px;top:737px;width:6px;height:15px"></i>

<!-- 23 mashin ala -->
<b class="m" style="left:1077px;top:685px;width:53px;height:67px;font-size:14px">بترا...</b>
<i class="r" style="left:1132px;top:685px;width:43px;height:35px"></i>
<i class="m" style="left:1132px;top:722px;width:13px;height:30px"></i>
<i class="r" style="left:1147px;top:722px;width:16px;height:16px"></i>
<i class="g" style="left:1165px;top:722px;width:10px;height:16px"></i>
<i class="d" style="left:1147px;top:740px;width:16px;height:12px"></i>
<i class="m" style="left:1165px;top:740px;width:10px;height:12px"></i>

<!-- 24 estekh -->
<b class="g" style="left:1177px;top:685px;width:73px;height:67px;font-size:7px"><span>ختوقا</span><span class="p">2.94%</span></b>

<!-- 25 sakht -->
<b class="m" style="left:970px;top:785px;width:41px;height:50px;font-size:14px">فا...</b>
<i class="d" style="left:1013px;top:785px;width:43px;height:27px"></i>
<i class="g" style="left:1013px;top:814px;width:20px;height:21px"></i>
<i class="r" style="left:1035px;top:814px;width:21px;height:12px"></i>
<i class="d" style="left:1035px;top:828px;width:8px;height:7px"></i>
<i class="m" style="left:1045px;top:828px;width:5px;height:7px"></i>
<i class="d" style="left:1052px;top:828px;width:4px;height:7px"></i>

<!-- 26 hotel -->
<b class="g" style="left:1060px;top:785px;width:53px;height:50px;font-size:15px">سمگا</b>
<i class="g" style="left:1115px;top:785px;width:8px;height:50px"></i>

<!-- 27 ka -->
<i class="d" style="left:1127px;top:785px;width:38px;height:25px"></i>
<i class="m" style="left:1167px;top:785px;width:24px;height:25px"></i>
<i class="r" style="left:1127px;top:812px;width:33px;height:23px"></i>
<i class="k" style="left:1162px;top:812px;width:13px;height:23px"></i>
<i class="m" style="left:1177px;top:812px;width:14px;height:23px"></i>

<!-- 28 la -->
<i class="r" style="left:1195px;top:785px;width:31px;height:23px"></i>
<i class="d" style="left:1228px;top:785px;width:22px;height:15px"></i>
<i class="m" style="left:1228px;top:802px;width:10px;height:23px"></i>
<i class="g" style="left:1240px;top:802px;width:10px;height:23px"></i>
<i class="g" style="left:1195px;top:810px;width:31px;height:25px"></i>
<i class="d" style="left:1228px;top:827px;width:22px;height:8px"></i>

<!-- 29 sayer m -->
<i class="g" style="left:970px;top:867px;width:33px;height:23px"></i>
<i class="g" style="left:1005px;top:867px;width:21px;height:23px"></i>
<i class="r" style="left:1028px;top:867px;width:12px;height:23px"></i>
<i class="k" style="left:1042px;top:867px;width:14px;height:23px"></i>
<i class="k" style="left:970px;top:892px;width:33px;height:21px"></i>
<i class="d" style="left:1005px;top:892px;width:21px;height:21px"></i>
<i class="m" style="left:1028px;top:892px;width:12px;height:21px"></i>
<i class="k" style="left:1042px;top:892px;width:7px;height:21px"></i>
<i class="r" style="left:1051px;top:892px;width:5px;height:21px"></i>

<!-- 30 -->
<b class="r" style="left:1060px;top:867px;width:38px;height:43px;font-size:14px">کر...</b>
<i class="o" style="left:1100px;top:867px;width:10px;height:41px"></i>

<!-- 31 sayer -->
<i class="d" style="left:1114px;top:867px;width:21px;height:23px"></i>
<i class="k" style="left:1137px;top:867px;width:11px;height:23px"></i>
<i class="m" style="left:1150px;top:867px;width:12px;height:23px"></i>
<i class="d" style="left:1164px;top:867px;width:8px;height:13px"></i>
<i class="g" style="left:1164px;top:882px;width:8px;height:8px"></i>
<i class="k" style="left:1174px;top:867px;width:6px;height:13px"></i>
<i class="g" style="left:1174px;top:882px;width:6px;height:8px"></i>

<!-- 32 sala -->
<i class="r" style="left:1184px;top:867px;width:66px;height:21px"></i>

<!-- 33 tolid -->
<i class="r" style="left:970px;top:945px;width:49px;height:35px"></i>
<i class="g" style="left:1021px;top:945px;width:35px;height:35px"></i>

<!-- 34 -->
<i class="g" style="left:1060px;top:945px;width:38px;height:18px"></i>
<i class="g" style="left:1060px;top:965px;width:38px;height:15px"></i>
<i class="r" style="left:1100px;top:945px;width:10px;height:35px"></i>

<!-- 35 as -->
<i class="k" style="left:1114px;top:922px;width:54px;height:16px"></i>
<i class="o" style="left:1170px;top:922px;width:10px;height:16px"></i>

<!-- 36 ham -->
<i class="o" style="left:1114px;top:972px;width:66px;height:8px"></i>

<!-- 37 -->
<i class="r" style="left:1183px;top:922px;width:15px;height:11px"></i>
<i class="g" style="left:1200px;top:922px;width:15px;height:11px"></i>
<i class="d" style="left:1232px;top:922px;width:18px;height:11px"></i>

<!-- 38 blanks -->
<i class="w" style="left:1184px;top:937px;width:33px;height:22px"></i>
<i class="w" style="left:1219px;top:937px;width:15px;height:22px"></i>
<i class="w" style="left:1236px;top:937px;width:14px;height:22px"></i>
<i class="w" style="left:1184px;top:961px;width:33px;height:19px"></i>
<i class="w" style="left:1219px;top:961px;width:15px;height:19px"></i>
<i class="w" style="left:1236px;top:961px;width:14px;height:19px"></i>

</body></html>
